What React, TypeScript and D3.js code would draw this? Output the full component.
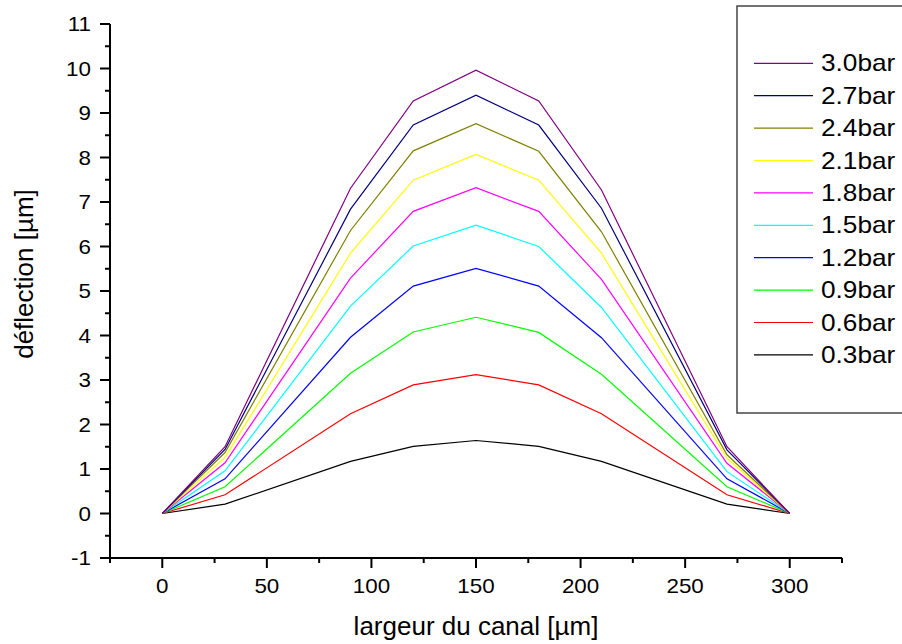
import React from "react";
import * as d3 from "d3";

const xValues = [0, 30, 90, 120, 150, 180, 210, 270, 300];
const seriesLabels = ["3.0bar", "2.7bar", "2.4bar", "2.1bar", "1.8bar", "1.5bar", "1.2bar", "0.9bar", "0.6bar", "0.3bar"];
const seriesColors = ["#800080", "#000080", "#808000", "#ffff00", "#ff00ff", "#00ffff", "#0000ff", "#00ff00", "#ff0000", "#000000"];
const s30 = [0, 1.5, 7.31, 9.27, 9.96, 9.27, 7.27, 1.5, 0];
const s27 = [0, 1.44, 6.84, 8.73, 9.4, 8.73, 6.86, 1.43, 0];
const s24 = [0, 1.37, 6.36, 8.15, 8.76, 8.14, 6.33, 1.32, 0];
const s21 = [0, 1.26, 5.85, 7.49, 8.07, 7.49, 5.85, 1.24, 0];
const s18 = [0, 1.14, 5.29, 6.79, 7.32, 6.79, 5.26, 1.13, 0];
const s15 = [0, 0.96, 4.66, 6.01, 6.48, 6.0, 4.63, 0.94, 0];
const s12 = [0, 0.78, 3.96, 5.11, 5.51, 5.11, 3.95, 0.78, 0];
const s09 = [0, 0.6, 3.15, 4.08, 4.41, 4.07, 3.13, 0.6, 0];
const s06 = [0, 0.42, 2.24, 2.89, 3.12, 2.89, 2.24, 0.42, 0];
const s03 = [0, 0.21, 1.17, 1.51, 1.64, 1.51, 1.17, 0.21, 0];
const seriesValues = [s30, s27, s24, s21, s18, s15, s12, s09, s06, s03];
const xTickLabels = [0, 50, 100, 150, 200, 250, 300];
const yTickLabels = [-1, 0, 1, 2, 3, 4, 5, 6, 7, 8, 9, 10, 11];

const FONT = "'Liberation Sans', Arial, sans-serif";

export default function App() {
  const x = d3.scaleLinear().domain([-25, 325]).range([110, 842]);
  const y = d3.scaleLinear().domain([-1, 11]).range([558, 24]);
  const line = d3
    .line<[number, number]>()
    .x((d) => x(d[0]))
    .y((d) => y(d[1]));

  const xMinor = d3.range(-25, 326, 25).filter((v) => v % 50 !== 0);
  const yMinor = d3.range(-0.5, 11, 1);
  const sx = 1.12;

  return (
    <svg
      width={902}
      height={644}
      style={{ position: "absolute", left: 0, top: 0, background: "#fff" }}
      fontFamily={FONT}
    >
      <rect x={0} y={0} width={902} height={644} fill="#fff" />
      {/* series */}
      {seriesValues
        .slice()
        .reverse()
        .map((vals, ri) => {
          const i = seriesValues.length - 1 - ri;
          const pts = xValues.map((xv, k) => [xv, vals[k]] as [number, number]);
          return (
            <path key={i} d={line(pts) || ""} fill="none" stroke={seriesColors[i]} strokeWidth={1.2} />
          );
        })}
      {/* axes */}
      <g stroke="#000" strokeWidth={2} fill="none">
        <line x1={110} y1={y(11)} x2={110} y2={559} />
        <line x1={109} y1={558} x2={842} y2={558} />
        {yTickLabels.map((v) => (
          <line key={"ym" + v} x1={100} x2={110} y1={y(v)} y2={y(v)} />
        ))}
        {yMinor.map((v) => (
          <line key={"yn" + v} x1={105} x2={110} y1={y(v)} y2={y(v)} />
        ))}
        {xTickLabels.map((v) => (
          <line key={"xm" + v} x1={x(v)} x2={x(v)} y1={558} y2={568} />
        ))}
        {xMinor.map((v) => (
          <line key={"xn" + v} x1={x(v)} x2={x(v)} y1={558} y2={563} />
        ))}
      </g>
      {/* tick labels */}
      {yTickLabels.map((v) => (
        <text
          key={"yl" + v}
          transform={`translate(91,${y(v) + 7}) scale(${sx},1)`}
          textAnchor="end"
          fontSize={20}
          fill="#000"
        >
          {v}
        </text>
      ))}
      {xTickLabels.map((v) => (
        <text
          key={"xl" + v}
          transform={`translate(${x(v)},593) scale(${sx},1)`}
          textAnchor="middle"
          fontSize={20}
          fill="#000"
        >
          {v}
        </text>
      ))}
      {/* axis titles */}
      <text x={476} y={635} textAnchor="middle" fontSize={26} fill="#000">
        largeur du canal [µm]
      </text>
      <text
        transform={`translate(33,274) rotate(-90) scale(1,${1.0})`}
        textAnchor="middle"
        fontSize={26}
        fill="#000"
      >
        déflection [µm]
      </text>
      {/* legend */}
      <rect x={737} y={6} width={200} height={407} fill="none" stroke="#444" strokeWidth={1.5} />
      {seriesLabels.map((lab, i) => {
        const ly = 63.3 + i * 32.4;
        return (
          <g key={lab}>
            <line x1={754} x2={813} y1={ly} y2={ly} stroke={seriesColors[i]} strokeWidth={1.2} />
            <text
              transform={`translate(821,${ly + 8}) scale(1.14,1)`}
              fontSize={23}
              fill="#000"
            >
              {lab}
            </text>
          </g>
        );
      })}
    </svg>
  );
}
